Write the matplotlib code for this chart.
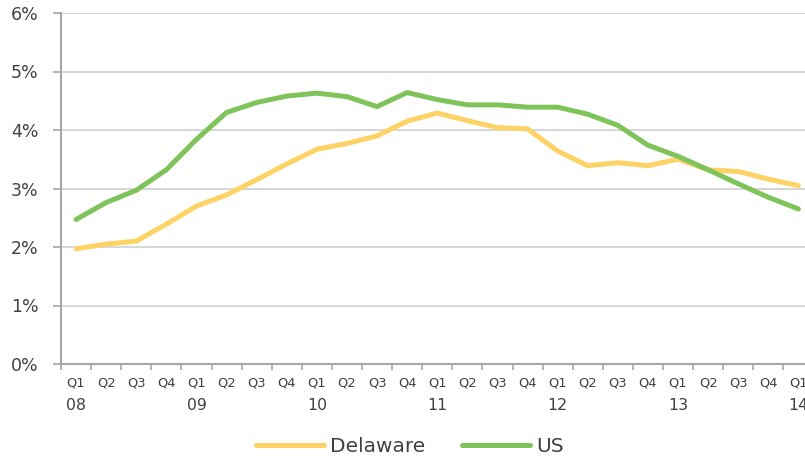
import numpy as np
import matplotlib.pyplot as plt
from matplotlib.ticker import FixedLocator, PercentFormatter

plt.rcParams['font.family'] = ['DejaVu Sans']

quarters = ['Q1', 'Q2', 'Q3', 'Q4'] * 6 + ['Q1']
years = ['08', '09', '10', '11', '12', '13', '14']

delaware = [1.97, 2.05, 2.10, 2.39, 2.70, 2.89, 3.15, 3.42, 3.67, 3.77, 3.90, 4.15,
            4.29, 4.16, 4.04, 4.02, 3.64, 3.39, 3.44, 3.39, 3.50, 3.32, 3.29, 3.16, 3.05]
us = [2.47, 2.76, 2.97, 3.32, 3.84, 4.30, 4.47, 4.58, 4.63, 4.57, 4.40, 4.64,
      4.52, 4.43, 4.43, 4.39, 4.39, 4.27, 4.08, 3.74, 3.55, 3.32, 3.08, 2.85, 2.65]

text_col = '#404040'
axis_col = '#A6A6A6'

fig = plt.figure(figsize=(8.05, 4.58), dpi=100)
ax = fig.add_axes([61 / 805, (458 - 364) / 458, 752.5 / 805, 351 / 458])

x = np.arange(len(quarters))
ax.plot(x, delaware, color='#FDD366', lw=3.6, label='Delaware', solid_capstyle='round', zorder=3)
ax.plot(x, us, color='#7FC45A', lw=3.6, label='US', solid_capstyle='round', zorder=3)

ax.set_xlim(-0.5, len(quarters) - 0.5)
ax.set_ylim(0, 6)

# y axis
ax.set_yticks(np.arange(0, 7, 1))
ax.yaxis.set_major_formatter(PercentFormatter(decimals=0))
ax.grid(axis='y', color='#D0D0D0', lw=1.2, zorder=0)
ax.tick_params(axis='y', length=6, width=1.2, color=axis_col, pad=10,
               labelsize=12.5, labelcolor=text_col)

# x axis: ticks at category boundaries, labels at centers
ax.xaxis.set_major_locator(FixedLocator(np.arange(-0.5, len(quarters), 1)))
ax.xaxis.set_major_formatter(plt.NullFormatter())
ax.xaxis.set_minor_locator(FixedLocator(x))
ax.set_xticklabels(quarters, minor=True)
ax.tick_params(axis='x', which='major', length=4, width=1.2, color=axis_col, direction='out')
ax.tick_params(axis='x', which='minor', length=0, pad=9, labelsize=9.4, labelcolor=text_col)

for i, yr in enumerate(years):
    ax.annotate(yr, xy=(i * 4, 0), xycoords=('data', 'axes fraction'),
                xytext=(0, -30), textcoords='offset points',
                ha='center', va='center', fontsize=11.3, color=text_col,
                annotation_clip=False)

for s in ['top', 'right']:
    ax.spines[s].set_visible(False)
for s in ['left', 'bottom']:
    ax.spines[s].set_color(axis_col)
    ax.spines[s].set_linewidth(1.5)

fig.legend(loc='center', bbox_to_anchor=(0.509, 0.026), ncol=2, frameon=False,
           fontsize=14.5, labelcolor=text_col, handlelength=3.4, handletextpad=0.3,
           columnspacing=1.8)

fig.savefig('out.png', dpi=100)
